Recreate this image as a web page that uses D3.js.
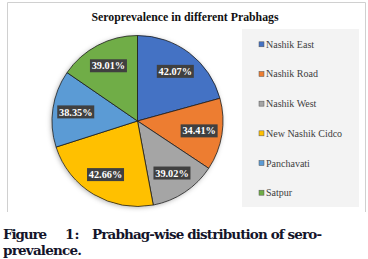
<!DOCTYPE html>
<html>
<head>
<meta charset="utf-8">
<script src="https://cdn.jsdelivr.net/npm/d3@7"></script>
<style>
  body { margin: 0; background: #fff; }
  svg { display: block; }
  .serif { font-family: "Liberation Serif", "Times New Roman", Times, serif; }
  .cap { font-family: "DejaVu Serif", serif; }
</style>
</head>
<body>
<div id="chart"></div>
<script>
// prabhag names (legend order = slice order, clockwise from top)
const prabhags = ["Nashik East", "Nashik Road", "Nashik West", "New Nashik Cidco", "Panchavati", "Satpur"];
// seroprevalence labels shown on the slices
const prevalence = [42.07, 34.41, 39.02, 42.66, 38.35, 39.01];
// share of the pie each slice takes (%)
const sliceShare = [20.7, 13.6, 12.7, 23.0, 14.5, 15.4];
const colors = ["#4472C4", "#ED7D31", "#A5A5A5", "#FFC000", "#5B9BD5", "#70AD47"];

const width = 368, height = 259;

const svg = d3.select("#chart")
  .append("svg")
  .attr("width", width)
  .attr("height", height)
  .attr("viewBox", [0, 0, width, height]);

// soft shadow round the pie
const defs = svg.append("defs");
const f = defs.append("filter").attr("id", "shadow")
  .attr("x", "-20%").attr("y", "-20%").attr("width", "140%").attr("height", "140%");
f.append("feDropShadow").attr("dx", -1).attr("dy", 1).attr("stdDeviation", 2.5)
  .attr("flood-color", "#000").attr("flood-opacity", 0.3);

// chart frame (bottom edge is cut off by the caption)
svg.append("path")
  .attr("d", "M7.5,212 V2.5 H365.5 V212")
  .attr("fill", "none")
  .attr("stroke", "#d0d0d0")
  .attr("stroke-width", 1);

svg.append("text")
  .attr("class", "serif")
  .attr("x", 185)
  .attr("y", 21)
  .attr("text-anchor", "middle")
  .attr("font-weight", "bold")
  .attr("font-size", 11.8)
  .attr("fill", "#111")
  .text("Seroprevalence in different Prabhags");

const cx = 137.5, cy = 121, radius = 85.5;

const pie = d3.pie().sort(null).value(d => d.share);
const data = prabhags.map((p, i) => ({name: p, share: sliceShare[i], label: prevalence[i], color: colors[i]}));
const arcs = pie(data);

const arc = d3.arc().innerRadius(0).outerRadius(radius);
const labelArc = d3.arc().innerRadius(radius * 0.73).outerRadius(radius * 0.73);

const g = svg.append("g").attr("transform", `translate(${cx},${cy})`);

g.append("circle").attr("r", radius).attr("fill", "#fff").attr("filter", "url(#shadow)");

g.selectAll("path.slice")
  .data(arcs)
  .join("path")
  .attr("class", "slice")
  .attr("d", arc)
  .attr("fill", d => d.data.color)
  .attr("stroke", "#1a1a1a")
  .attr("stroke-width", 0.8);

// data labels: dark boxes with white text
const lab = g.selectAll("g.lab")
  .data(arcs)
  .join("g")
  .attr("class", "lab")
  .attr("transform", d => `translate(${labelArc.centroid(d)})`);

lab.append("rect")
  .attr("x", -18.5).attr("y", -6.5)
  .attr("width", 37).attr("height", 13)
  .attr("fill", "#404040");

lab.append("text")
  .attr("class", "serif")
  .attr("text-anchor", "middle")
  .attr("dy", "0.35em")
  .attr("font-weight", "bold")
  .attr("font-size", 10.3)
  .attr("fill", "#fff")
  .text(d => d.data.label.toFixed(2) + "%");

// legend
const legend = svg.append("g");
legend.append("rect")
  .attr("x", 242).attr("y", 29)
  .attr("width", 117).attr("height", 178)
  .attr("fill", "#f3f3f3");

const yLeg = d3.scalePoint().domain(prabhags).range([44.3, 192.7]);

const item = legend.selectAll("g.item")
  .data(data)
  .join("g")
  .attr("class", "item")
  .attr("transform", d => `translate(259,${yLeg(d.name)})`);

item.append("rect")
  .attr("x", 0).attr("y", -2.5)
  .attr("width", 5).attr("height", 5)
  .attr("fill", d => d.color)
  .attr("stroke", "#555")
  .attr("stroke-width", 0.5);

item.append("text")
  .attr("class", "serif")
  .attr("x", 7)
  .attr("dy", "0.35em")
  .attr("font-size", 10)
  .attr("fill", "#404040")
  .text(d => d.name);

// caption under the chart
const cap = svg.append("g")
  .attr("class", "cap")
  .attr("font-weight", "bold")
  .attr("font-size", 13.5)
  .attr("fill", "#14142a");

cap.append("text").attr("x", 3).attr("y", 239).attr("textLength", 44).text("Figure");
cap.append("text").attr("x", 65).attr("y", 239).text("1:");
cap.append("text").attr("x", 92).attr("y", 239).attr("textLength", 230).text("Prabhag-wise distribution of sero-");
cap.append("text").attr("x", 3).attr("y", 255).attr("textLength", 79).text("prevalence.");
</script>
</body>
</html>
